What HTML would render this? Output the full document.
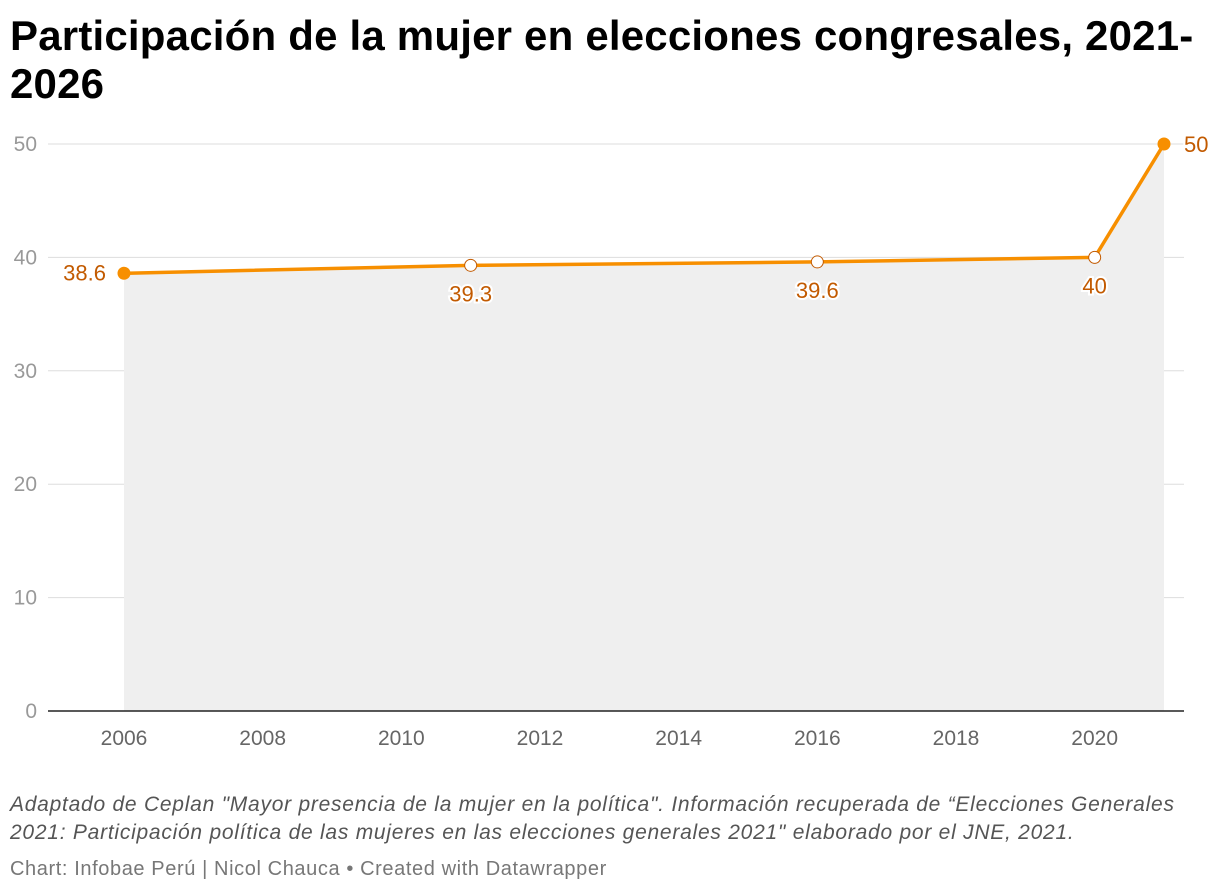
<!DOCTYPE html>
<html><head><meta charset="utf-8"><style>
body{margin:0;background:#fff;width:1220px;height:894px;overflow:hidden;font-family:"Liberation Sans",sans-serif}
h1{position:absolute;left:10px;top:12px;margin:0;font-size:42px;line-height:48px;font-weight:bold;color:#000;width:1215px;letter-spacing:0.2px}
.note{position:absolute;left:10px;top:791px;font-size:21px;line-height:28px;font-style:italic;color:#555;width:1215px;letter-spacing:0.75px;white-space:nowrap}
.cred{position:absolute;left:10px;top:858px;font-size:20px;color:#777;letter-spacing:0.6px}
</style></head><body>
<h1>Participación de la mujer en elecciones congresales, 2021-<br>2026</h1>
<svg id="chart" width="1220" height="894" style="position:absolute;left:0;top:0"></svg>
<div class="note">Adaptado de Ceplan "Mayor presencia de la mujer en la política". Información recuperada de “Elecciones Generales<br>2021: Participación política de las mujeres en las elecciones generales 2021" elaborado por el JNE, 2021.</div>
<div class="cred">Chart: Infobae Perú | Nicol Chauca • Created with Datawrapper</div>
<script>
const years=[2006,2011,2016,2020,2021];
const values=[38.6,39.3,39.6,40,50];
const labels=["38.6","39.3","39.6","40","50"];
const yTicks=[0,10,20,30,40,50];
const xTicks=[2006,2008,2010,2012,2014,2016,2018,2020];
const svg=document.getElementById('chart');
const NS='http://www.w3.org/2000/svg';
const x=v=>124+(v-2006)*(1164-124)/15;
const y=v=>711-v*(711-144)/50;
function mk(t,a,txt){const e=document.createElementNS(NS,t);for(const k in a)e.setAttribute(k,a[k]);if(txt!=null)e.textContent=txt;svg.appendChild(e);return e;}
yTicks.forEach(t=>{
 if(t>0){const g=mk('line',{x1:48,x2:1184,y1:y(t),y2:y(t),stroke:'#ddd','stroke-width':1});
 
 }
 const l=mk('text',{x:37,y:y(t)+7,'text-anchor':'end','font-size':21,fill:'#999','font-family':'Liberation Sans'},t);
 
 
});
let area='M'+x(years[0])+','+y(0);
years.forEach((yr,i)=>area+=' L'+x(yr)+','+y(values[i]));
area+=' L'+x(years[years.length-1])+','+y(0)+' Z';
const ar=mk('path',{d:area,fill:'#efefef'});


const ax=mk('line',{x1:48,x2:1184,y1:711,y2:711,stroke:'#222','stroke-width':1.5});


xTicks.forEach(t=>{const l=mk('text',{x:x(t),y:745,'text-anchor':'middle','font-size':21,fill:'#666','font-family':'Liberation Sans'},t);
 
 });
const ln=mk('polyline',{points:years.map((yr,i)=>x(yr)+','+y(values[i])).join(' '),fill:'none',stroke:'#f78f00','stroke-width':3.5,'stroke-linejoin':'round'});


years.forEach((yr,i)=>{
 const end=(i==0||i==years.length-1);
 const c=mk('circle',{cx:x(yr),cy:y(values[i]),r:6,fill:end?'#f78f00':'#fff',stroke:end?'#f78f00':'#c25a00','stroke-width':1});
 
 
 let tx,ty,anc;
 if(i==0){tx=x(yr)-18;ty=y(values[i])+7;anc='end';}
 else if(i==years.length-1){tx=x(yr)+20;ty=y(values[i])+8;anc='start';}
 else{tx=x(yr);ty=y(values[i])+36;anc='middle';}
 const t=mk('text',{x:tx,y:ty,'text-anchor':anc,'font-size':22,fill:'#c25a00','font-family':'Liberation Sans',stroke:'#fff','stroke-width':4,'paint-order':'stroke'},labels[i]);
 
 
});
</script>
</body></html>
